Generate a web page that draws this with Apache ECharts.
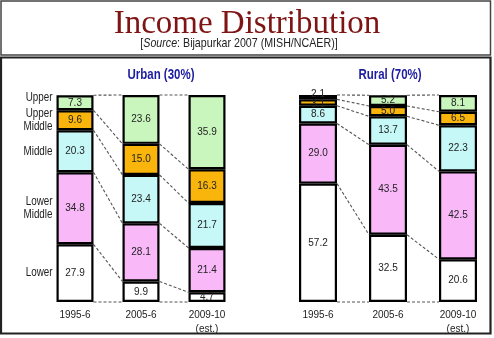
<!DOCTYPE html>
<html>
<head>
<meta charset="utf-8">
<script src="https://cdn.jsdelivr.net/npm/echarts@6/dist/echarts.min.js"></script>
<style>
html,body{margin:0;padding:0;background:#fff;}
#c{width:494px;height:338px;}
</style>
</head>
<body>
<div id="c"></div>
<script>
// ---- data ----
const years = ['1995-6', '2005-6', '2009-10\n(est.)'];
const classNames = ['Lower', 'Lower\nMiddle', 'Middle', 'Upper\nMiddle', 'Upper'];

const urbanLower = [27.9, 9.9, 4.7];
const urbanLowerMiddle = [34.8, 28.1, 21.4];
const urbanMiddle = [20.3, 23.4, 21.7];
const urbanUpperMiddle = [9.6, 15.0, 16.3];
const urbanUpper = [7.3, 23.6, 35.9];

const ruralLower = [57.2, 32.5, 20.6];
const ruralLowerMiddle = [29.0, 43.5, 42.5];
const ruralMiddle = [8.6, 13.7, 22.3];
const ruralUpperMiddle = [3.1, 5.0, 6.5];
const ruralUpper = [2.1, 5.2, 8.1];

// ---- styles ----
const SANS = '"Liberation Sans", Arial, sans-serif';
const NARROW_SCALE = 0.82;
const segColors = ['#ffffff', '#f9b9f9', '#c6f8f8', '#f9b50c', '#c9f6bd'];
const barW = [37, 38];

const urbanSets = [urbanLower, urbanLowerMiddle, urbanMiddle, urbanUpperMiddle, urbanUpper];
const ruralSets = [ruralLower, ruralLowerMiddle, ruralMiddle, ruralUpperMiddle, ruralUpper];

function cumulative(sets) {
  const levels = [];
  for (let k = 0; k <= sets.length; k++) {
    levels.push(years.map((_, j) => {
      let s = 0;
      for (let m = 0; m < k; m++) s += sets[m][j];
      return s;
    }));
  }
  return levels;
}

function connectorData(sets) {
  const lv = cumulative(sets);
  const out = [];
  lv.forEach(row => {
    for (let j = 0; j < years.length - 1; j++) out.push([j, row[j], row[j + 1]]);
  });
  return out;
}

const series = [];
[urbanSets, ruralSets].forEach((sets, g) => {
  sets.forEach((vals, k) => {
    const isTop = k === sets.length - 1;
    series.push({
      type: 'bar',
      name: classNames[k],
      xAxisIndex: g, yAxisIndex: g,
      stack: 'r' + g,
      barWidth: barW[g],
      data: vals,
      z: 3,
      itemStyle: { color: segColors[k], borderColor: '#000', borderWidth: 2.2 },
      label: {
        show: true, position: 'inside', color: '#222',
        fontFamily: SANS, fontSize: 10,
        formatter: p => p.value.toFixed(1)
      },
      // spread apart labels of segments too thin to hold them
      labelLayout: p => (p.rect.height < 8 ? { dy: isTop ? -3 : 2 } : {})
    });
  });
  series.push({
    type: 'custom',
    xAxisIndex: g, yAxisIndex: g,
    z: 1,
    silent: true,
    data: connectorData(sets),
    renderItem: function (params, api) {
      const j = api.value(0);
      const p1 = api.coord([j, api.value(1)]);
      const p2 = api.coord([j + 1, api.value(2)]);
      const hw = barW[g] / 2;
      return {
        type: 'line',
        shape: { x1: p1[0] + hw, y1: p1[1], x2: p2[0] - hw, y2: p2[1] },
        style: { stroke: '#555', lineWidth: 1.1, lineDash: [3, 2] }
      };
    }
  });
});

// left-hand class labels beside first urban bar
const firstMid = urbanSets.map((vals, k) => {
  let s = 0;
  for (let m = 0; m < k; m++) s += urbanSets[m][0];
  return [0, s + vals[0] / 2, k];
});
series.push({
  type: 'custom',
  xAxisIndex: 0, yAxisIndex: 0,
  silent: true,
  data: firstMid,
  renderItem: function (params, api) {
    const p = api.coord([api.value(0), api.value(1)]);
    const k = api.value(2);
    const topAligned = k === classNames.length - 1;
    return {
      type: 'text',
      x: p[0] - barW[0] / 2 - 4,
      y: topAligned ? api.coord([0, 100])[1] - 4 : p[1],
      scaleX: NARROW_SCALE,
      style: {
        text: classNames[k],
        align: 'right',
        verticalAlign: topAligned ? 'top' : 'middle',
        fontFamily: SANS, fontSize: 12, fill: '#222',
        lineHeight: 13
      }
    };
  }
});

const xAxisBase = {
  type: 'category', data: years,
  axisLine: { show: false }, axisTick: { show: false },
  axisLabel: { color: '#222', fontFamily: SANS, fontSize: 10, margin: 6, lineHeight: 14 }
};
const yAxisBase = { type: 'value', min: 0, max: 100, show: false, splitLine: { show: false } };

const option = {
  animation: false,
  backgroundColor: '#fff',
  title: [
    { text: 'Income Distribution', left: 'center', top: 3,
      textStyle: { fontFamily: '"Liberation Serif", "Times New Roman", serif', fontSize: 33, fontWeight: 'normal', color: '#7f1414' } }
  ],
  grid: [
    { left: 42, width: 198, top: 95, height: 207, outerBoundsMode: 'none' },
    { left: 283, width: 210, top: 95, height: 207, outerBoundsMode: 'none' }
  ],
  xAxis: [Object.assign({ gridIndex: 0 }, xAxisBase), Object.assign({ gridIndex: 1 }, xAxisBase)],
  yAxis: [Object.assign({ gridIndex: 0 }, yAxisBase), Object.assign({ gridIndex: 1 }, yAxisBase)],
  graphic: [
    { type: 'rect', shape: { x: 1, y: 1, width: 489.5, height: 54 }, style: { fill: 'none', stroke: '#444', lineWidth: 1.5 }, z: 100 },
    { type: 'rect', shape: { x: 1, y: 57.5, width: 489.5, height: 276 }, style: { fill: 'none', stroke: '#222', lineWidth: 2.2 }, z: 100 },
    { type: 'text', x: 239, y: 43, scaleX: NARROW_SCALE, z: 100,
      style: { text: '[{i|Source}: Bijapurkar 2007 (MISH/NCAER)]', align: 'center', verticalAlign: 'middle',
        font: '13px ' + SANS, fill: '#222',
        rich: { i: { fontStyle: 'italic', fontSize: 13, fontFamily: SANS, fill: '#222' } } } },
    { type: 'text', x: 161, y: 75, scaleX: NARROW_SCALE, z: 100,
      style: { text: 'Urban (30%)', align: 'center', verticalAlign: 'middle',
        font: 'bold 14px ' + SANS, fill: '#1c1ca0' } },
    { type: 'text', x: 390, y: 75, scaleX: NARROW_SCALE, z: 100,
      style: { text: 'Rural (70%)', align: 'center', verticalAlign: 'middle',
        font: 'bold 14px ' + SANS, fill: '#1c1ca0' } }
  ],
  series: series
};

const chart = echarts.init(document.getElementById('c'), null, { renderer: 'canvas' });
chart.setOption(option);
</script>
</body>
</html>
